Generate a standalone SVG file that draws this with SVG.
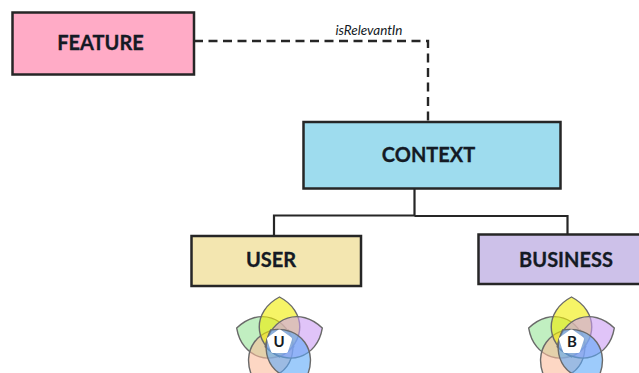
<svg xmlns="http://www.w3.org/2000/svg" width="639" height="373" viewBox="0 0 639 373">
<style>
.box{stroke:#262626;stroke-width:2.5}
.lbl{font-family:Lato,"Liberation Sans",sans-serif;font-weight:700;font-size:20px;fill:#141a24;stroke:#141a24;stroke-width:.3;text-anchor:middle}
.conn{fill:none;stroke:#262626;stroke-width:2.2}
.dash{stroke-dasharray:9 5.5;stroke-width:2.4}
.pet{stroke:#6a6a6a;stroke-width:1.4;fill-opacity:.6}
.core{fill:#fff;stroke:#fff;stroke-width:4;stroke-linejoin:round}
.ini{font-family:Lato,"Liberation Sans",sans-serif;font-weight:700;font-size:15px;fill:#141a24;text-anchor:middle}
</style>
<defs>
<path id="p" d="M0,-45 C27,-31 27,1 0,15 C-27,1 -27,-31 0,-45Z"/>
<g id="flower">
<use href="#p" class="pet" fill="#98e498" transform="rotate(-72)"/>
<use href="#p" class="pet" fill="#fcbc9c" transform="rotate(-144)"/>
<use href="#p" class="pet" fill="#f0ec00"/>
<use href="#p" class="pet" fill="#cc9cf4" transform="rotate(72)"/>
<use href="#p" class="pet" fill="#5ca8f8" transform="rotate(144)"/>
<path class="core" d="M0,-10.500 L10.500,-3 L6.500,9 L-6.500,9 L-10.500,-3Z"/>
</g>
</defs>
<g id="connectors">
<path class="conn dash" d="M194,41 H428 V122"/>
<path class="conn" d="M414.500,188 V216 M274,236 V215.500 H414.500 M414.500,216 H567.500 V234"/>
<text x="369" y="35" font-family="Lato,'Liberation Sans',sans-serif" font-style="italic" font-size="13.500" fill="#141a24" text-anchor="middle">isRelevantIn</text>
</g>
<g id="feature"><rect class="box" x="12.500" y="12.500" width="181.500" height="62" fill="#ffabc6"/><text class="lbl" x="100.500" y="50">FEATURE</text></g>
<g id="context"><rect class="box" x="303.500" y="122" width="257" height="66.500" fill="#9edcee"/><text class="lbl" x="428.500" y="162">CONTEXT</text></g>
<g id="user"><rect class="box" x="191.500" y="236" width="169.500" height="50" fill="#f3e6b0"/><text class="lbl" x="271" y="267">USER</text></g>
<g id="business"><rect class="box" x="478.500" y="234.500" width="163" height="49.500" fill="#cdc1e9"/><text class="lbl" x="566" y="267">BUSINESS</text></g>
<g id="flower-u"><use href="#flower" transform="translate(279.500,342)"/><text class="ini" x="279" y="347">U</text></g>
<g id="flower-b"><use href="#flower" transform="translate(571.500,342)"/><text class="ini" x="572" y="347">B</text></g>
</svg>
